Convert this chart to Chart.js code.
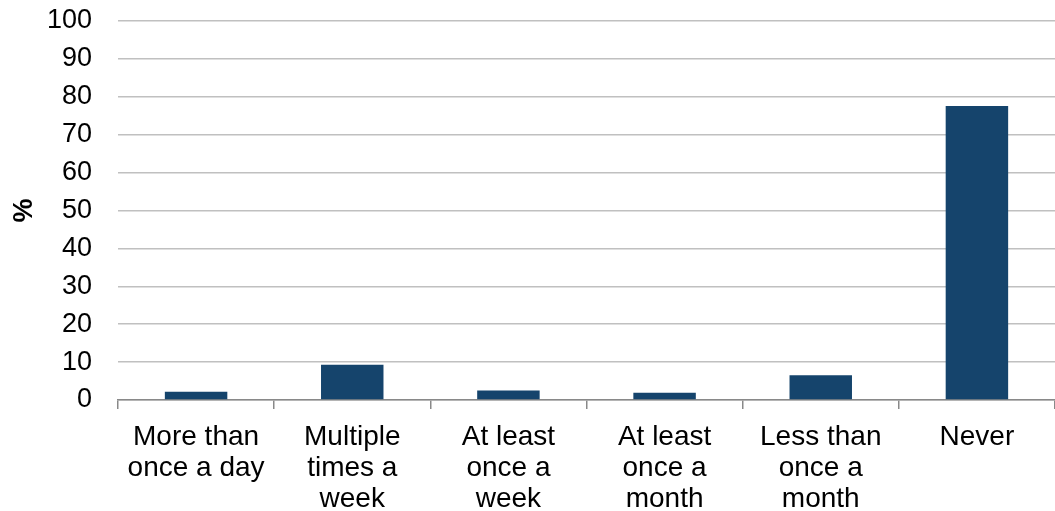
<!DOCTYPE html>
<html>
<head>
<meta charset="utf-8">
<script src="https://cdn.jsdelivr.net/npm/chart.js@4/dist/chart.umd.min.js"></script>
<style>
html,body{margin:0;padding:0;background:#fff;}
#wrap{width:1055px;height:511px;position:relative;}
</style>
</head>
<body>
<div id="wrap"><canvas id="c"></canvas></div>
<script>
const categories = [
  ["More than", "once a day"],
  ["Multiple", "times a", "week"],
  ["At least", "once a", "week"],
  ["At least", "once a", "month"],
  ["Less than", "once a", "month"],
  ["Never"]
];
const values = [2.2, 9.3, 2.5, 1.9, 6.5, 77.6];
const yTicks = [0, 10, 20, 30, 40, 50, 60, 70, 80, 90, 100];
const yTitle = "%";

Chart.defaults.font.family = "'Liberation Sans', Arial, sans-serif";
Chart.defaults.color = "#000";

new Chart(document.getElementById('c'), {
  type: 'bar',
  data: {
    labels: categories,
    datasets: [{
      data: values,
      backgroundColor: '#15446c',
      borderWidth: 0,
      categoryPercentage: 1.0,
      barPercentage: 0.4
    }]
  },
  options: {
    responsive: true,
    maintainAspectRatio: false,
    animation: false,
    layout: { padding: { top: 21, right: 0, left: 0, bottom: 0 } },
    plugins: { legend: { display: false }, tooltip: { enabled: false } },
    scales: {
      x: {
        offset: true,
        afterFit: (axis) => { axis.paddingLeft = 0; axis.paddingRight = 0; axis.height = 111; },
        grid: {
          offset: true,
          drawOnChartArea: false,
          drawTicks: true,
          tickLength: 9,
          color: '#898989',
          lineWidth: 1.5
        },
        border: { display: true, color: '#898989', width: 1.5 },
        ticks: {
          font: { size: 28, lineHeight: 1.1 },
          maxRotation: 0,
          autoSkip: false,
          padding: 13
        }
      },
      y: {
        min: 0,
        max: 100,
        afterBuildTicks: (axis) => { axis.ticks = yTicks.map(v => ({ value: v })); },
        afterFit: (axis) => { axis.width = 118; axis.paddingTop = 0; axis.paddingBottom = 0; },
        grid: {
          color: '#c0c0c0',
          lineWidth: 1.5,
          drawTicks: false
        },
        border: { display: false },
        ticks: {
          font: { size: 27 },
          padding: 26,
          autoSkip: false
        },
        title: {
          display: true,
          text: yTitle,
          font: { size: 27, weight: 'bold' },
          padding: { top: 8, bottom: 0 }
        }
      }
    }
  }
});
</script>
</body>
</html>
